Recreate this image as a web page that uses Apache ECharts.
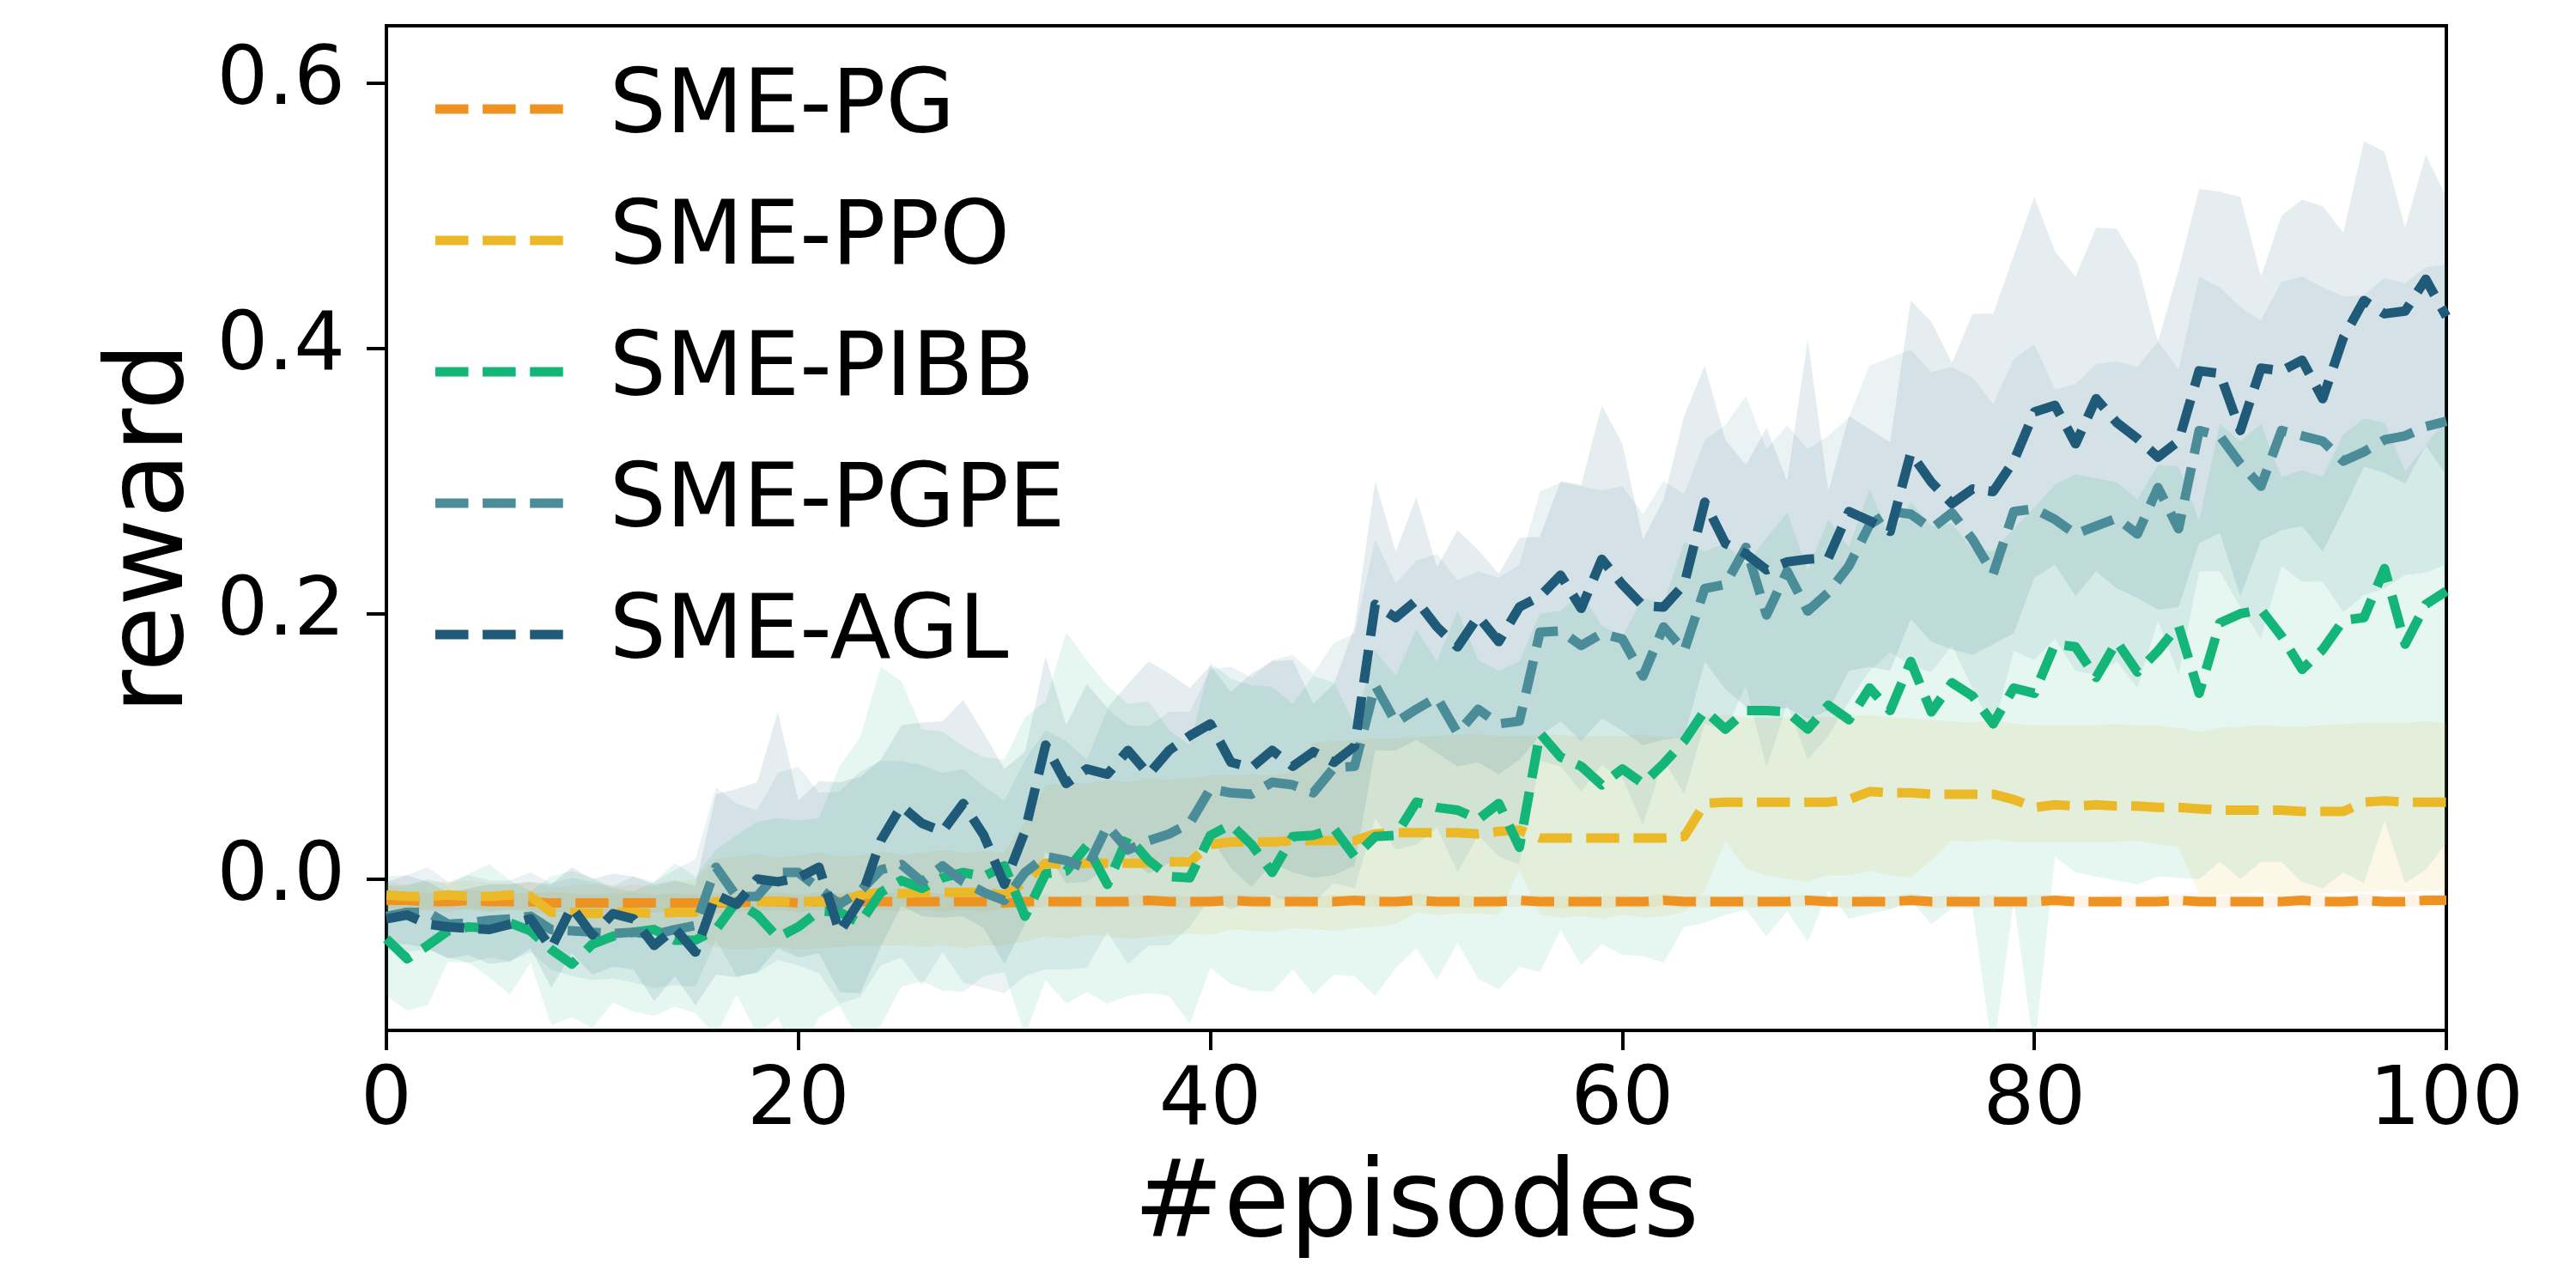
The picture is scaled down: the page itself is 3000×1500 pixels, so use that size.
<!DOCTYPE html>
<html>
<head>
<meta charset="utf-8">
<script src="https://cdn.jsdelivr.net/npm/echarts@6/dist/echarts.min.js"></script>
<style>
html,body{margin:0;padding:0;background:#fff;}
#chart{width:3000px;height:1500px;}
</style>
</head>
<body>
<div id="chart"></div>
<script>
// reward per episode (index = episode 0..100)
var names = ['SME-PG', 'SME-PPO', 'SME-PIBB', 'SME-PGPE', 'SME-AGL'];
var colors = ['#EE9322', '#EBB927', '#13B578', '#4A8C98', '#1F5A78'];
var xTicks = [0, 20, 40, 60, 80, 100];
var yTicks = [0, 0.2, 0.4, 0.6];

var pgMean = [-0.016,-0.016,-0.017,-0.017,-0.016,-0.017,-0.017,-0.017,-0.018,-0.018,
  -0.018,-0.018,-0.018,-0.018,-0.018,-0.018,-0.018,-0.018,-0.017,-0.017,
  -0.018,-0.017,-0.017,-0.017,-0.017,-0.017,-0.017,-0.017,-0.017,-0.017,
  -0.018,-0.017,-0.017,-0.017,-0.017,-0.017,-0.017,-0.016,-0.017,-0.017,
  -0.017,-0.016,-0.017,-0.017,-0.017,-0.017,-0.017,-0.016,-0.017,-0.017,
  -0.016,-0.017,-0.017,-0.017,-0.017,-0.016,-0.017,-0.017,-0.017,-0.017,
  -0.017,-0.017,-0.016,-0.017,-0.017,-0.017,-0.017,-0.017,-0.017,-0.016,
  -0.017,-0.017,-0.017,-0.017,-0.016,-0.017,-0.017,-0.017,-0.017,-0.017,
  -0.017,-0.016,-0.017,-0.017,-0.017,-0.017,-0.017,-0.016,-0.017,-0.017,
  -0.017,-0.017,-0.017,-0.016,-0.017,-0.017,-0.016,-0.017,-0.017,-0.016,-0.016];
var pgUp = [0.006,0.007,0.006,0.007,0.008,0.006,0.007,0.006,0.008,0.007,
  0.006,0.007,0.008,0.006,0.007,0.006,0.007,0.008,0.006,0.007,
  0.006,0.007,0.006,0.008,0.007,0.006,0.007,0.006,0.007,0.006,
  0.005,0.004,0.005,0.004,0.005,0.004,0.005,0.004,0.005,0.004,
  0.005,0.004,0.005,0.004,0.005,0.004,0.005,0.004,0.005,0.004,
  0.005,0.004,0.005,0.004,0.005,0.004,0.005,0.004,0.005,0.004,
  0.005,0.004,0.005,0.004,0.005,0.004,0.005,0.004,0.005,0.004,
  0.005,0.004,0.005,0.004,0.005,0.004,0.005,0.004,0.005,0.004,
  0.005,0.004,0.005,0.004,0.005,0.004,0.005,0.004,0.005,0.004,
  0.005,0.004,0.005,0.004,0.005,0.004,0.005,0.004,0.005,0.004,0.005];
var pgDown = [0.007,0.006,0.007,0.008,0.006,0.007,0.006,0.008,0.007,0.006,
  0.007,0.008,0.006,0.007,0.006,0.007,0.008,0.006,0.007,0.006,
  0.007,0.006,0.008,0.007,0.006,0.007,0.006,0.007,0.006,0.007,
  0.004,0.005,0.004,0.005,0.004,0.005,0.004,0.005,0.004,0.005,
  0.004,0.005,0.004,0.005,0.004,0.005,0.004,0.005,0.004,0.005,
  0.004,0.005,0.004,0.005,0.004,0.005,0.004,0.005,0.004,0.005,
  0.004,0.005,0.004,0.005,0.004,0.005,0.004,0.005,0.004,0.005,
  0.004,0.005,0.004,0.005,0.004,0.005,0.004,0.005,0.004,0.005,
  0.004,0.005,0.004,0.005,0.004,0.005,0.004,0.005,0.004,0.005,
  0.004,0.005,0.004,0.005,0.004,0.005,0.004,0.005,0.004,0.005,0.004];

var ppoMean = [-0.012,-0.013,-0.013,-0.012,-0.013,-0.013,-0.012,-0.013,-0.025,-0.025,
  -0.026,-0.025,-0.025,-0.026,-0.025,-0.025,-0.017,-0.017,-0.017,-0.017,
  -0.017,-0.017,-0.017,-0.012,-0.010,-0.011,-0.010,-0.010,-0.010,-0.010,
  -0.012,-0.002,0.012,0.011,0.012,0.012,0.012,0.012,0.013,0.013,
  0.026,0.028,0.028,0.028,0.029,0.029,0.029,0.029,0.034,0.035,
  0.035,0.035,0.035,0.034,0.036,0.037,0.031,0.031,0.031,0.031,
  0.031,0.031,0.031,0.032,0.057,0.058,0.058,0.058,0.058,0.058,
  0.058,0.060,0.066,0.065,0.065,0.064,0.064,0.064,0.064,0.060,
  0.054,0.056,0.055,0.056,0.055,0.055,0.054,0.054,0.053,0.052,
  0.052,0.052,0.052,0.051,0.051,0.051,0.058,0.059,0.058,0.058,0.058];
var ppoUp = [0.010,0.009,0.011,0.010,0.012,0.010,0.009,0.011,0.018,0.020,
  0.022,0.019,0.021,0.020,0.023,0.025,0.032,0.034,0.036,0.033,
  0.035,0.037,0.034,0.030,0.031,0.029,0.030,0.032,0.030,0.031,
  0.032,0.045,0.058,0.062,0.060,0.063,0.061,0.064,0.062,0.063,
  0.052,0.050,0.051,0.050,0.052,0.074,0.075,0.076,0.072,0.071,
  0.072,0.073,0.074,0.075,0.072,0.071,0.077,0.078,0.076,0.077,
  0.077,0.078,0.076,0.075,0.065,0.066,0.064,0.063,0.064,0.065,
  0.064,0.063,0.058,0.057,0.056,0.056,0.055,0.054,0.056,0.057,
  0.062,0.060,0.061,0.060,0.062,0.061,0.062,0.060,0.058,0.062,
  0.063,0.064,0.063,0.064,0.065,0.066,0.060,0.059,0.060,0.061,0.060];
var ppoDown = [0.010,0.011,0.009,0.010,0.010,0.012,0.011,0.010,0.015,0.016,
  0.015,0.017,0.016,0.015,0.017,0.020,0.034,0.036,0.035,0.034,
  0.036,0.035,0.034,0.038,0.040,0.039,0.041,0.040,0.042,0.040,
  0.038,0.045,0.055,0.056,0.054,0.055,0.057,0.056,0.055,0.054,
  0.068,0.066,0.067,0.068,0.066,0.067,0.068,0.066,0.070,0.069,
  0.060,0.062,0.061,0.060,0.063,0.030,0.058,0.060,0.059,0.061,
  0.058,0.060,0.059,0.057,0.065,0.030,0.050,0.055,0.058,0.060,
  0.055,0.057,0.060,0.062,0.064,0.050,0.035,0.036,0.034,0.032,
  0.026,0.028,0.027,0.028,0.027,0.026,0.028,0.030,0.065,0.064,
  0.063,0.062,0.064,0.063,0.062,0.061,0.068,0.067,0.068,0.067,0.066];

var pibbMean = [-0.045,-0.060,-0.050,-0.039,-0.036,-0.037,-0.033,-0.039,-0.053,-0.064,
  -0.049,-0.043,-0.040,-0.038,-0.046,-0.046,-0.038,-0.017,-0.027,-0.044,
  -0.036,-0.024,-0.025,-0.033,-0.010,-0.001,-0.007,0.001,0.005,0.002,
  0.010,-0.028,0.004,0.006,0.025,-0.004,0.032,0.014,0.002,0.001,
  0.033,0.041,0.026,0.005,0.032,0.033,0.038,0.017,0.032,0.033,
  0.058,0.054,0.052,0.045,0.057,0.024,0.110,0.092,0.085,0.071,
  0.083,0.072,0.087,0.104,0.127,0.113,0.127,0.127,0.126,0.113,
  0.131,0.120,0.144,0.127,0.164,0.126,0.148,0.138,0.117,0.144,
  0.140,0.177,0.175,0.152,0.179,0.156,0.172,0.191,0.140,0.193,
  0.200,0.203,0.183,0.158,0.173,0.195,0.197,0.234,0.177,0.207,0.217];
var pibbUp = [0.040,0.055,0.050,0.035,0.040,0.048,0.032,0.030,0.055,0.070,
  0.050,0.036,0.031,0.036,0.058,0.048,0.060,0.050,0.070,0.090,
  0.080,0.070,0.110,0.140,0.170,0.150,0.120,0.110,0.095,0.090,
  0.080,0.150,0.130,0.180,0.140,0.150,0.100,0.120,0.110,0.100,
  0.130,0.110,0.120,0.140,0.100,0.120,0.110,0.100,0.140,0.120,
  0.130,0.110,0.150,0.120,0.100,0.140,0.090,0.110,0.130,0.120,
  0.100,0.140,0.120,0.150,0.120,0.140,0.110,0.130,0.150,0.120,
  0.140,0.130,0.150,0.130,0.120,0.140,0.120,0.110,0.130,0.120,
  0.140,0.120,0.130,0.150,0.120,0.130,0.140,0.120,0.130,0.150,
  0.130,0.140,0.120,0.150,0.130,0.140,0.150,0.110,0.130,0.120,0.130];
var pibbDown = [0.043,0.039,0.045,0.023,0.027,0.037,0.054,0.024,0.057,0.040,
  0.063,0.050,0.060,0.065,0.050,0.055,0.080,0.070,0.090,0.060,
  0.100,0.080,0.070,0.090,0.100,0.080,0.070,0.085,0.090,0.075,
  0.080,0.090,0.080,0.100,0.110,0.090,0.120,0.100,0.090,0.110,
  0.100,0.120,0.110,0.090,0.100,0.120,0.110,0.090,0.120,0.100,
  0.110,0.130,0.100,0.120,0.140,0.090,0.180,0.130,0.150,0.120,
  0.140,0.130,0.150,0.140,0.160,0.140,0.150,0.170,0.150,0.160,
  0.140,0.150,0.170,0.150,0.180,0.160,0.170,0.160,0.250,0.160,
  0.270,0.160,0.170,0.150,0.180,0.160,0.170,0.190,0.140,0.180,
  0.200,0.190,0.170,0.160,0.180,0.190,0.200,0.190,0.180,0.200,0.190];

var pgpeMean = [-0.028,-0.025,-0.025,-0.034,-0.033,-0.031,-0.030,-0.028,-0.038,-0.039,
  -0.040,-0.041,-0.040,-0.042,-0.038,-0.035,0.009,-0.013,-0.013,0.005,
  0.005,-0.007,-0.019,-0.009,0.007,0.011,-0.002,0.010,-0.002,-0.010,
  -0.016,0.005,0.017,0.014,0.008,0.040,0.022,0.029,0.034,0.042,
  0.068,0.065,0.064,0.073,0.071,0.065,0.084,0.085,0.146,0.118,
  0.128,0.137,0.110,0.128,0.117,0.119,0.186,0.187,0.176,0.185,
  0.181,0.153,0.190,0.172,0.219,0.222,0.250,0.199,0.232,0.202,
  0.216,0.236,0.267,0.277,0.275,0.264,0.276,0.256,0.230,0.277,
  0.279,0.271,0.260,0.266,0.272,0.260,0.295,0.264,0.338,0.334,
  0.313,0.296,0.338,0.334,0.330,0.315,0.322,0.331,0.334,0.341,0.345];
var pgpeUp = [0.030,0.028,0.034,0.032,0.036,0.030,0.029,0.033,0.035,0.040,
  0.038,0.036,0.042,0.040,0.045,0.050,0.060,0.070,0.065,0.075,
  0.080,0.072,0.085,0.090,0.082,0.078,0.088,0.070,0.085,0.080,
  0.075,0.085,0.095,0.090,0.082,0.088,0.094,0.086,0.092,0.084,
  0.090,0.095,0.088,0.092,0.098,0.090,0.094,0.100,0.110,0.105,
  0.112,0.108,0.115,0.104,0.110,0.118,0.106,0.112,0.120,0.108,
  0.115,0.122,0.110,0.118,0.112,0.120,0.114,0.125,0.110,0.122,
  0.118,0.112,0.120,0.116,0.124,0.118,0.110,0.122,0.128,0.115,
  0.124,0.098,0.113,0.122,0.118,0.126,0.110,0.120,0.116,0.112,
  0.118,0.125,0.112,0.120,0.116,0.124,0.118,0.122,0.115,0.120,0.118];
var pgpeDown = [0.026,0.030,0.028,0.025,0.030,0.028,0.032,0.027,0.030,0.034,
  0.036,0.034,0.038,0.040,0.042,0.046,0.055,0.060,0.058,0.066,
  0.070,0.064,0.075,0.080,0.072,0.070,0.078,0.065,0.076,0.072,
  0.070,0.078,0.085,0.082,0.075,0.080,0.086,0.079,0.084,0.078,
  0.082,0.088,0.080,0.085,0.090,0.083,0.087,0.092,0.100,0.096,
  0.102,0.098,0.105,0.095,0.100,0.108,0.097,0.102,0.110,0.099,
  0.105,0.112,0.100,0.108,0.102,0.110,0.104,0.115,0.100,0.112,
  0.108,0.102,0.110,0.106,0.114,0.108,0.100,0.112,0.118,0.105,
  0.114,0.090,0.103,0.112,0.108,0.116,0.100,0.110,0.106,0.102,
  0.108,0.115,0.102,0.110,0.106,0.114,0.108,0.112,0.105,0.110,0.108];

var aglMean = [-0.030,-0.027,-0.034,-0.036,-0.037,-0.038,-0.034,-0.030,-0.052,-0.021,
  -0.042,-0.026,-0.030,-0.050,-0.037,-0.055,-0.012,-0.019,0.000,-0.002,
  0.001,0.009,-0.040,-0.016,0.029,0.055,0.042,0.036,0.057,0.033,
  -0.004,0.036,0.101,0.072,0.083,0.079,0.097,0.079,0.097,0.108,
  0.117,0.088,0.084,0.097,0.085,0.096,0.088,0.100,0.207,0.197,
  0.210,0.190,0.175,0.198,0.179,0.205,0.213,0.229,0.204,0.241,
  0.222,0.206,0.205,0.222,0.284,0.253,0.245,0.233,0.239,0.241,
  0.242,0.277,0.270,0.262,0.321,0.299,0.283,0.294,0.292,0.315,
  0.352,0.357,0.328,0.362,0.344,0.332,0.318,0.330,0.383,0.381,
  0.338,0.385,0.383,0.391,0.362,0.408,0.436,0.426,0.428,0.452,0.424];
var aglUp = [0.028,0.030,0.032,0.026,0.030,0.034,0.030,0.028,0.048,0.030,
  0.042,0.030,0.032,0.046,0.036,0.050,0.076,0.087,0.073,0.128,
  0.058,0.065,0.113,0.093,0.061,0.061,0.076,0.083,0.078,0.077,
  0.087,0.060,0.067,0.044,0.064,0.050,0.050,0.085,0.058,0.036,
  0.044,0.053,0.071,0.067,0.080,0.036,0.059,0.090,0.093,0.050,
  0.078,0.045,0.088,0.050,0.051,0.052,0.045,0.071,0.093,0.116,
  0.106,0.050,0.081,0.127,0.103,0.078,0.067,0.107,0.061,0.166,
  0.050,0.072,0.069,0.067,0.115,0.121,0.106,0.132,0.134,0.155,
  0.162,0.116,0.126,0.129,0.146,0.132,0.087,0.129,0.137,0.137,
  0.176,0.069,0.117,0.121,0.145,0.079,0.120,0.122,0.063,0.094,0.090];
var aglDown = [0.020,0.022,0.018,0.024,0.020,0.026,0.028,0.022,0.030,0.035,
  0.030,0.040,0.038,0.042,0.036,0.040,0.060,0.055,0.070,0.050,
  0.060,0.065,0.045,0.070,0.080,0.075,0.070,0.065,0.085,0.070,
  0.060,0.070,0.080,0.075,0.085,0.070,0.080,0.075,0.085,0.090,
  0.085,0.080,0.090,0.085,0.080,0.095,0.085,0.090,0.110,0.100,
  0.105,0.095,0.090,0.110,0.100,0.115,0.105,0.110,0.100,0.120,
  0.110,0.105,0.100,0.115,0.120,0.110,0.115,0.105,0.110,0.120,
  0.115,0.120,0.110,0.105,0.125,0.120,0.110,0.125,0.115,0.130,
  0.125,0.120,0.115,0.130,0.125,0.120,0.115,0.125,0.130,0.120,
  0.125,0.130,0.120,0.125,0.115,0.130,0.125,0.120,0.130,0.125,0.120];

var means = [pgMean, ppoMean, pibbMean, pgpeMean, aglMean];
var ups = [pgUp, ppoUp, pibbUp, pgpeUp, aglUp];
var downs = [pgDown, ppoDown, pibbDown, pgpeDown, aglDown];

var font = 'DejaVu Sans';
var myChart = echarts.init(document.getElementById('chart'), null, {renderer: 'canvas'});

// one polygon per band: upper edge left->right, lower edge right->left
function bandRenderer(color) {
    return function (params, api) {
        if (params.dataIndex !== 0) return null;
        var n = params.dataInsideLength;
        var pts = [];
        for (var i = 0; i < n; i++) pts.push(api.coord([api.value(0, i), api.value(2, i)]));
        for (var j = n - 1; j >= 0; j--) pts.push(api.coord([api.value(0, j), api.value(1, j)]));
        var cs = params.coordSys;
        return {
            type: 'polygon',
            shape: {points: pts},
            style: {fill: color, opacity: 0.11},
            silent: true,
            clipPath: {type: 'rect', shape: {x: cs.x, y: cs.y, width: cs.width, height: cs.height}}
        };
    };
}

var series = [];
for (var k = 0; k < names.length; k++) {
    var m = means[k], u = ups[k], d = downs[k];
    series.push({
        name: names[k] + ' band', type: 'custom', z: 1, silent: true,
        renderItem: bandRenderer(colors[k]),
        encode: {x: 0, y: [1, 2]},
        data: m.map(function (v, i) { return [i, v - d[i], v + u[i]]; })
    });
}
for (var k = 0; k < names.length; k++) {
    series.push({
        name: names[k], type: 'line', symbol: 'none', z: 3,
        data: means[k].map(function (v, i) { return [i, v]; }),
        itemStyle: {color: colors[k]},
        lineStyle: {color: colors[k], width: 11, type: [38.5, 16.6], cap: 'butt', join: 'round'}
    });
}

var option = {
    animation: false,
    backgroundColor: '#fff',
    grid: {left: 450, right: 151, top: 30, bottom: 300, show: true, borderColor: '#000', borderWidth: 4, backgroundColor: 'transparent'},
    legend: {
        data: names, orient: 'vertical', left: 502, top: 70,
        itemWidth: 149, itemHeight: 11, itemGap: 49, selectedMode: false,
        icon: 'path://M0,0h38.5v11h-38.5zM55.1,0h38.5v11h-38.5zM110.2,0h38.5v11h-38.5z',
        itemStyle: {borderWidth: 0},
        textStyle: {fontSize: 104, fontFamily: font, color: '#000', lineHeight: 104, padding: [0, 0, 0, 49]}
    },
    xAxis: {
        type: 'value', min: 0, max: 100, interval: 20,
        name: '#episodes', nameLocation: 'middle', nameGap: 144,
        nameTextStyle: {fontSize: 125, fontFamily: font, color: '#000'},
        splitLine: {show: false},
        axisLine: {show: true, onZero: false, lineStyle: {color: '#000', width: 4}},
        axisTick: {show: true, length: 23, lineStyle: {color: '#000', width: 4}, customValues: xTicks},
        axisLabel: {fontSize: 94, fontFamily: font, color: '#000', margin: 38, customValues: xTicks}
    },
    yAxis: {
        type: 'value', min: -0.114, max: 0.643,
        name: 'reward', nameLocation: 'middle', nameGap: 205,
        nameTextStyle: {fontSize: 125, fontFamily: font, color: '#000'},
        splitLine: {show: false},
        axisLine: {show: true, onZero: false, lineStyle: {color: '#000', width: 4}},
        axisTick: {show: true, length: 23, lineStyle: {color: '#000', width: 4}, customValues: yTicks},
        axisLabel: {fontSize: 94, fontFamily: font, color: '#000', margin: 48, customValues: yTicks,
            formatter: function (v) { return v.toFixed(1); }}
    },
    series: series
};
myChart.setOption(option);
</script>
</body>
</html>
